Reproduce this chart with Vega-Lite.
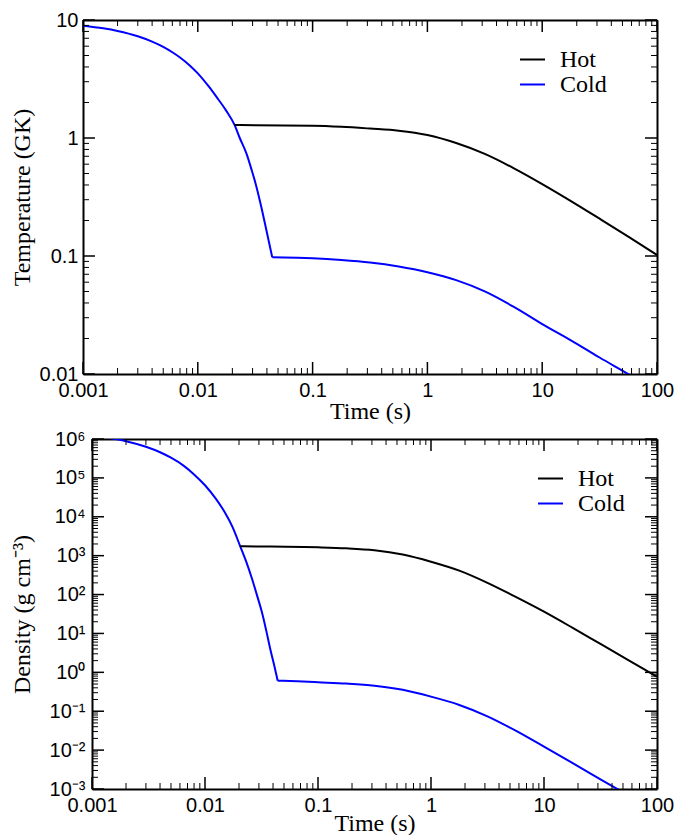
{
  "$schema": "https://vega.github.io/schema/vega-lite/v6.json",
  "background": "white",
  "padding": {"left": 10, "top": 10, "right": 5, "bottom": 0},
  "spacing": 6,
  "resolve": {"scale": {"color": "independent"}},
  "datasets": {
    "temp": [
      {"t": 0.001, "T": 8.95, "s": "Cold", "g": "a"},
      {"t": 0.0015, "T": 8.5, "s": "Cold", "g": "a"},
      {"t": 0.002, "T": 8.07, "s": "Cold", "g": "a"},
      {"t": 0.003, "T": 7.28, "s": "Cold", "g": "a"},
      {"t": 0.004, "T": 6.56, "s": "Cold", "g": "a"},
      {"t": 0.005, "T": 5.92, "s": "Cold", "g": "a"},
      {"t": 0.006, "T": 5.33, "s": "Cold", "g": "a"},
      {"t": 0.007, "T": 4.81, "s": "Cold", "g": "a"},
      {"t": 0.0085, "T": 4.12, "s": "Cold", "g": "a"},
      {"t": 0.01, "T": 3.53, "s": "Cold", "g": "a"},
      {"t": 0.0125, "T": 2.72, "s": "Cold", "g": "a"},
      {"t": 0.0145, "T": 2.24, "s": "Cold", "g": "a"},
      {"t": 0.0175, "T": 1.73, "s": "Cold", "g": "a"},
      {"t": 0.0209, "T": 1.29, "s": "Cold", "g": "a"},
      {"t": 0.0232, "T": 1.0, "s": "Cold", "g": "a"},
      {"t": 0.0265, "T": 0.741, "s": "Cold", "g": "a"},
      {"t": 0.0295, "T": 0.533, "s": "Cold", "g": "a"},
      {"t": 0.0324, "T": 0.387, "s": "Cold", "g": "a"},
      {"t": 0.0355, "T": 0.268, "s": "Cold", "g": "a"},
      {"t": 0.039, "T": 0.177, "s": "Cold", "g": "a"},
      {"t": 0.0445, "T": 0.0975, "s": "Cold", "g": "a"},
      {"t": 0.0445, "T": 0.0975, "s": "Cold", "g": "b"},
      {"t": 0.0562, "T": 0.0973, "s": "Cold", "g": "b"},
      {"t": 0.1, "T": 0.0955, "s": "Cold", "g": "b"},
      {"t": 0.178, "T": 0.0923, "s": "Cold", "g": "b"},
      {"t": 0.316, "T": 0.0879, "s": "Cold", "g": "b"},
      {"t": 0.562, "T": 0.0813, "s": "Cold", "g": "b"},
      {"t": 1, "T": 0.0728, "s": "Cold", "g": "b"},
      {"t": 1.78, "T": 0.0624, "s": "Cold", "g": "b"},
      {"t": 3.16, "T": 0.0501, "s": "Cold", "g": "b"},
      {"t": 5.62, "T": 0.0372, "s": "Cold", "g": "b"},
      {"t": 10, "T": 0.0265, "s": "Cold", "g": "b"},
      {"t": 17.8, "T": 0.0193, "s": "Cold", "g": "b"},
      {"t": 31.6, "T": 0.0138, "s": "Cold", "g": "b"},
      {"t": 56.2, "T": 0.01, "s": "Cold", "g": "b"},
      {"t": 100, "T": 0.00716, "s": "Cold", "g": "b"},
      {"t": 0.0209, "T": 1.29, "s": "Hot", "g": "h"},
      {"t": 0.0316, "T": 1.28, "s": "Hot", "g": "h"},
      {"t": 0.1, "T": 1.27, "s": "Hot", "g": "h"},
      {"t": 0.178, "T": 1.245, "s": "Hot", "g": "h"},
      {"t": 0.316, "T": 1.202, "s": "Hot", "g": "h"},
      {"t": 0.562, "T": 1.153, "s": "Hot", "g": "h"},
      {"t": 1, "T": 1.059, "s": "Hot", "g": "h"},
      {"t": 1.78, "T": 0.906, "s": "Hot", "g": "h"},
      {"t": 3.16, "T": 0.733, "s": "Hot", "g": "h"},
      {"t": 5.62, "T": 0.556, "s": "Hot", "g": "h"},
      {"t": 10, "T": 0.407, "s": "Hot", "g": "h"},
      {"t": 17.8, "T": 0.292, "s": "Hot", "g": "h"},
      {"t": 31.6, "T": 0.207, "s": "Hot", "g": "h"},
      {"t": 56.2, "T": 0.146, "s": "Hot", "g": "h"},
      {"t": 100, "T": 0.102, "s": "Hot", "g": "h"}
    ],
    "dens": [
      {"t": 0.001, "rho": 1200000, "s": "Cold", "g": "a"},
      {"t": 0.0016, "rho": 1000000, "s": "Cold", "g": "a"},
      {"t": 0.002, "rho": 880000, "s": "Cold", "g": "a"},
      {"t": 0.003, "rho": 630000, "s": "Cold", "g": "a"},
      {"t": 0.004, "rho": 457000, "s": "Cold", "g": "a"},
      {"t": 0.005, "rho": 330000, "s": "Cold", "g": "a"},
      {"t": 0.0065, "rho": 204000, "s": "Cold", "g": "a"},
      {"t": 0.008, "rho": 123000, "s": "Cold", "g": "a"},
      {"t": 0.01, "rho": 64600, "s": "Cold", "g": "a"},
      {"t": 0.0125, "rho": 28800, "s": "Cold", "g": "a"},
      {"t": 0.015, "rho": 12900, "s": "Cold", "g": "a"},
      {"t": 0.0175, "rho": 5500, "s": "Cold", "g": "a"},
      {"t": 0.0205, "rho": 1740, "s": "Cold", "g": "a"},
      {"t": 0.0232, "rho": 692, "s": "Cold", "g": "a"},
      {"t": 0.0261, "rho": 251, "s": "Cold", "g": "a"},
      {"t": 0.029, "rho": 91, "s": "Cold", "g": "a"},
      {"t": 0.0319, "rho": 35, "s": "Cold", "g": "a"},
      {"t": 0.0348, "rho": 12, "s": "Cold", "g": "a"},
      {"t": 0.0378, "rho": 3.98, "s": "Cold", "g": "a"},
      {"t": 0.041, "rho": 1.5, "s": "Cold", "g": "a"},
      {"t": 0.044, "rho": 0.61, "s": "Cold", "g": "a"},
      {"t": 0.044, "rho": 0.61, "s": "Cold", "g": "b"},
      {"t": 0.0562, "rho": 0.6, "s": "Cold", "g": "b"},
      {"t": 0.1, "rho": 0.555, "s": "Cold", "g": "b"},
      {"t": 0.178, "rho": 0.513, "s": "Cold", "g": "b"},
      {"t": 0.316, "rho": 0.452, "s": "Cold", "g": "b"},
      {"t": 0.562, "rho": 0.355, "s": "Cold", "g": "b"},
      {"t": 1, "rho": 0.237, "s": "Cold", "g": "b"},
      {"t": 1.78, "rho": 0.145, "s": "Cold", "g": "b"},
      {"t": 3.16, "rho": 0.0741, "s": "Cold", "g": "b"},
      {"t": 5.62, "rho": 0.0316, "s": "Cold", "g": "b"},
      {"t": 10, "rho": 0.01225, "s": "Cold", "g": "b"},
      {"t": 17.8, "rho": 0.00468, "s": "Cold", "g": "b"},
      {"t": 31.6, "rho": 0.00178, "s": "Cold", "g": "b"},
      {"t": 56.2, "rho": 0.000676, "s": "Cold", "g": "b"},
      {"t": 100, "rho": 0.000257, "s": "Cold", "g": "b"},
      {"t": 0.0205, "rho": 1740, "s": "Hot", "g": "h"},
      {"t": 0.0316, "rho": 1722, "s": "Hot", "g": "h"},
      {"t": 0.1, "rho": 1641, "s": "Hot", "g": "h"},
      {"t": 0.178, "rho": 1549, "s": "Hot", "g": "h"},
      {"t": 0.316, "rho": 1380, "s": "Hot", "g": "h"},
      {"t": 0.562, "rho": 1072, "s": "Hot", "g": "h"},
      {"t": 1, "rho": 700, "s": "Hot", "g": "h"},
      {"t": 1.78, "rho": 412, "s": "Hot", "g": "h"},
      {"t": 3.16, "rho": 200, "s": "Hot", "g": "h"},
      {"t": 5.62, "rho": 87, "s": "Hot", "g": "h"},
      {"t": 10, "rho": 36.3, "s": "Hot", "g": "h"},
      {"t": 17.8, "rho": 14.1, "s": "Hot", "g": "h"},
      {"t": 31.6, "rho": 5.37, "s": "Hot", "g": "h"},
      {"t": 56.2, "rho": 2.04, "s": "Hot", "g": "h"},
      {"t": 100, "rho": 0.776, "s": "Hot", "g": "h"}
    ],
    "xmaj": [{"v": 0.001}, {"v": 0.01}, {"v": 0.1}, {"v": 1}, {"v": 10}, {"v": 100}],
    "xmin": [{"v": 0.002}, {"v": 0.003}, {"v": 0.004}, {"v": 0.005}, {"v": 0.006}, {"v": 0.007}, {"v": 0.008}, {"v": 0.009},
             {"v": 0.02}, {"v": 0.03}, {"v": 0.04}, {"v": 0.05}, {"v": 0.06}, {"v": 0.07}, {"v": 0.08}, {"v": 0.09},
             {"v": 0.2}, {"v": 0.3}, {"v": 0.4}, {"v": 0.5}, {"v": 0.6}, {"v": 0.7}, {"v": 0.8}, {"v": 0.9},
             {"v": 2}, {"v": 3}, {"v": 4}, {"v": 5}, {"v": 6}, {"v": 7}, {"v": 8}, {"v": 9},
             {"v": 20}, {"v": 30}, {"v": 40}, {"v": 50}, {"v": 60}, {"v": 70}, {"v": 80}, {"v": 90}],
    "tymaj": [{"v": 0.01}, {"v": 0.1}, {"v": 1}, {"v": 10}],
    "tymin": [{"v": 0.02}, {"v": 0.03}, {"v": 0.04}, {"v": 0.05}, {"v": 0.06}, {"v": 0.07}, {"v": 0.08}, {"v": 0.09},
              {"v": 0.2}, {"v": 0.3}, {"v": 0.4}, {"v": 0.5}, {"v": 0.6}, {"v": 0.7}, {"v": 0.8}, {"v": 0.9},
              {"v": 2}, {"v": 3}, {"v": 4}, {"v": 5}, {"v": 6}, {"v": 7}, {"v": 8}, {"v": 9}],
    "dymaj": [{"v": 0.001}, {"v": 0.01}, {"v": 0.1}, {"v": 1}, {"v": 10}, {"v": 100}, {"v": 1000}, {"v": 10000}, {"v": 100000}, {"v": 1000000}],
    "dymin": [{"v": 0.002}, {"v": 0.003}, {"v": 0.004}, {"v": 0.005}, {"v": 0.006}, {"v": 0.007}, {"v": 0.008}, {"v": 0.009},
              {"v": 0.02}, {"v": 0.03}, {"v": 0.04}, {"v": 0.05}, {"v": 0.06}, {"v": 0.07}, {"v": 0.08}, {"v": 0.09},
              {"v": 0.2}, {"v": 0.3}, {"v": 0.4}, {"v": 0.5}, {"v": 0.6}, {"v": 0.7}, {"v": 0.8}, {"v": 0.9},
              {"v": 2}, {"v": 3}, {"v": 4}, {"v": 5}, {"v": 6}, {"v": 7}, {"v": 8}, {"v": 9},
              {"v": 20}, {"v": 30}, {"v": 40}, {"v": 50}, {"v": 60}, {"v": 70}, {"v": 80}, {"v": 90},
              {"v": 200}, {"v": 300}, {"v": 400}, {"v": 500}, {"v": 600}, {"v": 700}, {"v": 800}, {"v": 900},
              {"v": 2000}, {"v": 3000}, {"v": 4000}, {"v": 5000}, {"v": 6000}, {"v": 7000}, {"v": 8000}, {"v": 9000},
              {"v": 20000}, {"v": 30000}, {"v": 40000}, {"v": 50000}, {"v": 60000}, {"v": 70000}, {"v": 80000}, {"v": 90000},
              {"v": 200000}, {"v": 300000}, {"v": 400000}, {"v": 500000}, {"v": 600000}, {"v": 700000}, {"v": 800000}, {"v": 900000}]
  },
  "vconcat": [
    {
      "width": 574,
      "height": 354,
      "resolve": {"axis": {"x": "independent", "y": "independent"}},
      "layer": [
        {
          "data": {"name": "temp"},
          "mark": {"type": "line", "clip": true, "strokeWidth": 2, "interpolate": "monotone"},
          "encoding": {
            "x": {
              "field": "t", "type": "quantitative",
              "scale": {"type": "log", "domain": [0.001, 100], "nice": false},
              "axis": {
                "orient": "bottom", "ticks": false, "domain": true,
                "values": [0.001, 0.01, 0.1, 1, 10, 100],
                "format": "~g",
                "labelPadding": 6,
                "title": "Time (s)",
                "titleY": 37,
                "titleBaseline": "middle"
              }
            },
            "y": {
              "field": "T", "type": "quantitative",
              "scale": {"type": "log", "domain": [0.01, 10], "nice": false},
              "axis": {
                "orient": "left", "ticks": false, "domain": true,
                "values": [0.01, 0.1, 1, 10],
                "format": "~g",
                "labelPadding": 5,
                "title": "Temperature (GK)",
                "titleX": -61,
                "titleBaseline": "middle"
              }
            },
            "color": {
              "field": "s", "type": "nominal",
              "scale": {"domain": ["Hot", "Cold"], "range": ["#000000", "#0000ff"]},
              "legend": {
                "orient": "none", "legendX": 436, "legendY": 28, "title": null,
                "symbolType": "stroke", "symbolSize": 625, "symbolStrokeWidth": 2,
                "labelFont": "Liberation Serif", "labelFontSize": 24, "labelColor": "black",
                "labelOffset": 14, "padding": 0, "rowPadding": 0, "clipHeight": 23
              }
            },
            "detail": {"field": "g"}
          }
        },
        {
          "data": {"name": "temp"},
          "mark": {"type": "point", "opacity": 0},
          "encoding": {
            "x": {"field": "t", "type": "quantitative",
              "axis": {"orient": "top", "labels": false, "title": null, "ticks": false, "domain": true}},
            "y": {"field": "T", "type": "quantitative",
              "axis": {"orient": "right", "labels": false, "title": null, "ticks": false, "domain": true}}
          }
        },
        {
          "data": {"name": "xmaj"},
          "mark": {"type": "tick", "orient": "vertical", "color": "black", "opacity": 1, "size": 12, "thickness": 1.5, "yOffset": 6},
          "encoding": {"x": {"field": "v", "type": "quantitative", "axis": null}, "y": {"datum": 10, "type": "quantitative", "axis": null}}
        },
        {
          "data": {"name": "xmaj"},
          "mark": {"type": "tick", "orient": "vertical", "color": "black", "opacity": 1, "size": 12, "thickness": 1.5, "yOffset": -6},
          "encoding": {"x": {"field": "v", "type": "quantitative", "axis": null}, "y": {"datum": 0.01, "type": "quantitative", "axis": null}}
        },
        {
          "data": {"name": "xmin"},
          "mark": {"type": "tick", "orient": "vertical", "color": "black", "opacity": 1, "size": 6, "thickness": 1, "yOffset": 3},
          "encoding": {"x": {"field": "v", "type": "quantitative", "axis": null}, "y": {"datum": 10, "type": "quantitative", "axis": null}}
        },
        {
          "data": {"name": "xmin"},
          "mark": {"type": "tick", "orient": "vertical", "color": "black", "opacity": 1, "size": 6, "thickness": 1, "yOffset": -3},
          "encoding": {"x": {"field": "v", "type": "quantitative", "axis": null}, "y": {"datum": 0.01, "type": "quantitative", "axis": null}}
        },
        {
          "data": {"name": "tymaj"},
          "mark": {"type": "tick", "orient": "horizontal", "color": "black", "opacity": 1, "size": 12, "thickness": 1.5, "xOffset": 6},
          "encoding": {"y": {"field": "v", "type": "quantitative", "axis": null}, "x": {"datum": 0.001, "type": "quantitative", "axis": null}}
        },
        {
          "data": {"name": "tymaj"},
          "mark": {"type": "tick", "orient": "horizontal", "color": "black", "opacity": 1, "size": 12, "thickness": 1.5, "xOffset": -6},
          "encoding": {"y": {"field": "v", "type": "quantitative", "axis": null}, "x": {"datum": 100, "type": "quantitative", "axis": null}}
        },
        {
          "data": {"name": "tymin"},
          "mark": {"type": "tick", "orient": "horizontal", "color": "black", "opacity": 1, "size": 6, "thickness": 1, "xOffset": 3},
          "encoding": {"y": {"field": "v", "type": "quantitative", "axis": null}, "x": {"datum": 0.001, "type": "quantitative", "axis": null}}
        },
        {
          "data": {"name": "tymin"},
          "mark": {"type": "tick", "orient": "horizontal", "color": "black", "opacity": 1, "size": 6, "thickness": 1, "xOffset": -3},
          "encoding": {"y": {"field": "v", "type": "quantitative", "axis": null}, "x": {"datum": 100, "type": "quantitative", "axis": null}}
        }
      ]
    },
    {
      "width": 574,
      "height": 350,
      "resolve": {"axis": {"x": "independent", "y": "independent"}},
      "layer": [
        {
          "data": {"name": "dens"},
          "mark": {"type": "line", "clip": true, "strokeWidth": 2, "interpolate": "monotone"},
          "encoding": {
            "x": {
              "field": "t", "type": "quantitative",
              "scale": {"type": "log", "domain": [0.001, 100], "nice": false, "range": [9, 574]},
              "axis": {
                "orient": "bottom", "ticks": false, "domain": true,
                "values": [0.001, 0.01, 0.1, 1, 10, 100],
                "format": "~g",
                "labelPadding": 6,
                "title": "Time (s)",
                "titleY": 34,
                "titleBaseline": "middle"
              }
            },
            "y": {
              "field": "rho", "type": "quantitative",
              "scale": {"type": "log", "domain": [0.001, 1000000], "nice": false},
              "axis": {
                "orient": "left", "offset": -9, "ticks": false, "domain": true,
                "values": [0.001, 0.01, 0.1, 1, 10, 100, 1000, 10000, 100000, 1000000],
                "labelExpr": "['10⁻³','10⁻²','10⁻¹','10⁰','10¹','10²','10³','10⁴','10⁵','10⁶'][round(log(datum.value)/LN10) + 3]",
                "labelPadding": 7,
                "title": "Density (g cm⁻³)",
                "titleX": -70,
                "titleBaseline": "middle"
              }
            },
            "color": {
              "field": "s", "type": "nominal",
              "scale": {"domain": ["Hot", "Cold"], "range": ["#000000", "#0000ff"]},
              "legend": {
                "orient": "none", "legendX": 454, "legendY": 28, "title": null,
                "symbolType": "stroke", "symbolSize": 625, "symbolStrokeWidth": 2,
                "labelFont": "Liberation Serif", "labelFontSize": 24, "labelColor": "black",
                "labelOffset": 14, "padding": 0, "rowPadding": 0, "clipHeight": 23
              }
            },
            "detail": {"field": "g"}
          }
        },
        {
          "data": {"name": "dens"},
          "mark": {"type": "point", "opacity": 0},
          "encoding": {
            "x": {"field": "t", "type": "quantitative",
              "axis": {"orient": "top", "labels": false, "title": null, "ticks": false, "domain": true}},
            "y": {"field": "rho", "type": "quantitative",
              "axis": {"orient": "right", "labels": false, "title": null, "ticks": false, "domain": true}}
          }
        },
        {
          "data": {"name": "xmaj"},
          "mark": {"type": "tick", "orient": "vertical", "color": "black", "opacity": 1, "size": 12, "thickness": 1.5, "yOffset": 6},
          "encoding": {"x": {"field": "v", "type": "quantitative", "axis": null}, "y": {"datum": 1000000, "type": "quantitative", "axis": null}}
        },
        {
          "data": {"name": "xmaj"},
          "mark": {"type": "tick", "orient": "vertical", "color": "black", "opacity": 1, "size": 12, "thickness": 1.5, "yOffset": -6},
          "encoding": {"x": {"field": "v", "type": "quantitative", "axis": null}, "y": {"datum": 0.001, "type": "quantitative", "axis": null}}
        },
        {
          "data": {"name": "xmin"},
          "mark": {"type": "tick", "orient": "vertical", "color": "black", "opacity": 1, "size": 6, "thickness": 1, "yOffset": 3},
          "encoding": {"x": {"field": "v", "type": "quantitative", "axis": null}, "y": {"datum": 1000000, "type": "quantitative", "axis": null}}
        },
        {
          "data": {"name": "xmin"},
          "mark": {"type": "tick", "orient": "vertical", "color": "black", "opacity": 1, "size": 6, "thickness": 1, "yOffset": -3},
          "encoding": {"x": {"field": "v", "type": "quantitative", "axis": null}, "y": {"datum": 0.001, "type": "quantitative", "axis": null}}
        },
        {
          "data": {"name": "dymaj"},
          "mark": {"type": "tick", "orient": "horizontal", "color": "black", "opacity": 1, "size": 12, "thickness": 1.5, "xOffset": 6},
          "encoding": {"y": {"field": "v", "type": "quantitative", "axis": null}, "x": {"datum": 0.001, "type": "quantitative", "axis": null}}
        },
        {
          "data": {"name": "dymaj"},
          "mark": {"type": "tick", "orient": "horizontal", "color": "black", "opacity": 1, "size": 12, "thickness": 1.5, "xOffset": -6},
          "encoding": {"y": {"field": "v", "type": "quantitative", "axis": null}, "x": {"datum": 100, "type": "quantitative", "axis": null}}
        },
        {
          "data": {"name": "dymin"},
          "mark": {"type": "tick", "orient": "horizontal", "color": "black", "opacity": 1, "size": 6, "thickness": 1, "xOffset": 3},
          "encoding": {"y": {"field": "v", "type": "quantitative", "axis": null}, "x": {"datum": 0.001, "type": "quantitative", "axis": null}}
        },
        {
          "data": {"name": "dymin"},
          "mark": {"type": "tick", "orient": "horizontal", "color": "black", "opacity": 1, "size": 6, "thickness": 1, "xOffset": -3},
          "encoding": {"y": {"field": "v", "type": "quantitative", "axis": null}, "x": {"datum": 100, "type": "quantitative", "axis": null}}
        }
      ]
    }
  ],
  "config": {
    "view": {"stroke": null},
    "axis": {
      "grid": false,
      "domain": false,
      "domainColor": "black",
      "domainWidth": 2,
      "tickColor": "black",
      "tickWidth": 1,
      "labelFont": "Liberation Sans",
      "labelFontSize": 20,
      "labelColor": "black",
      "labelOverlap": false,
      "labelFlush": false,
      "labelBound": false,
      "titleFont": "Liberation Serif",
      "titleFontSize": 24,
      "titleFontWeight": "normal",
      "titleColor": "black"
    }
  }
}
